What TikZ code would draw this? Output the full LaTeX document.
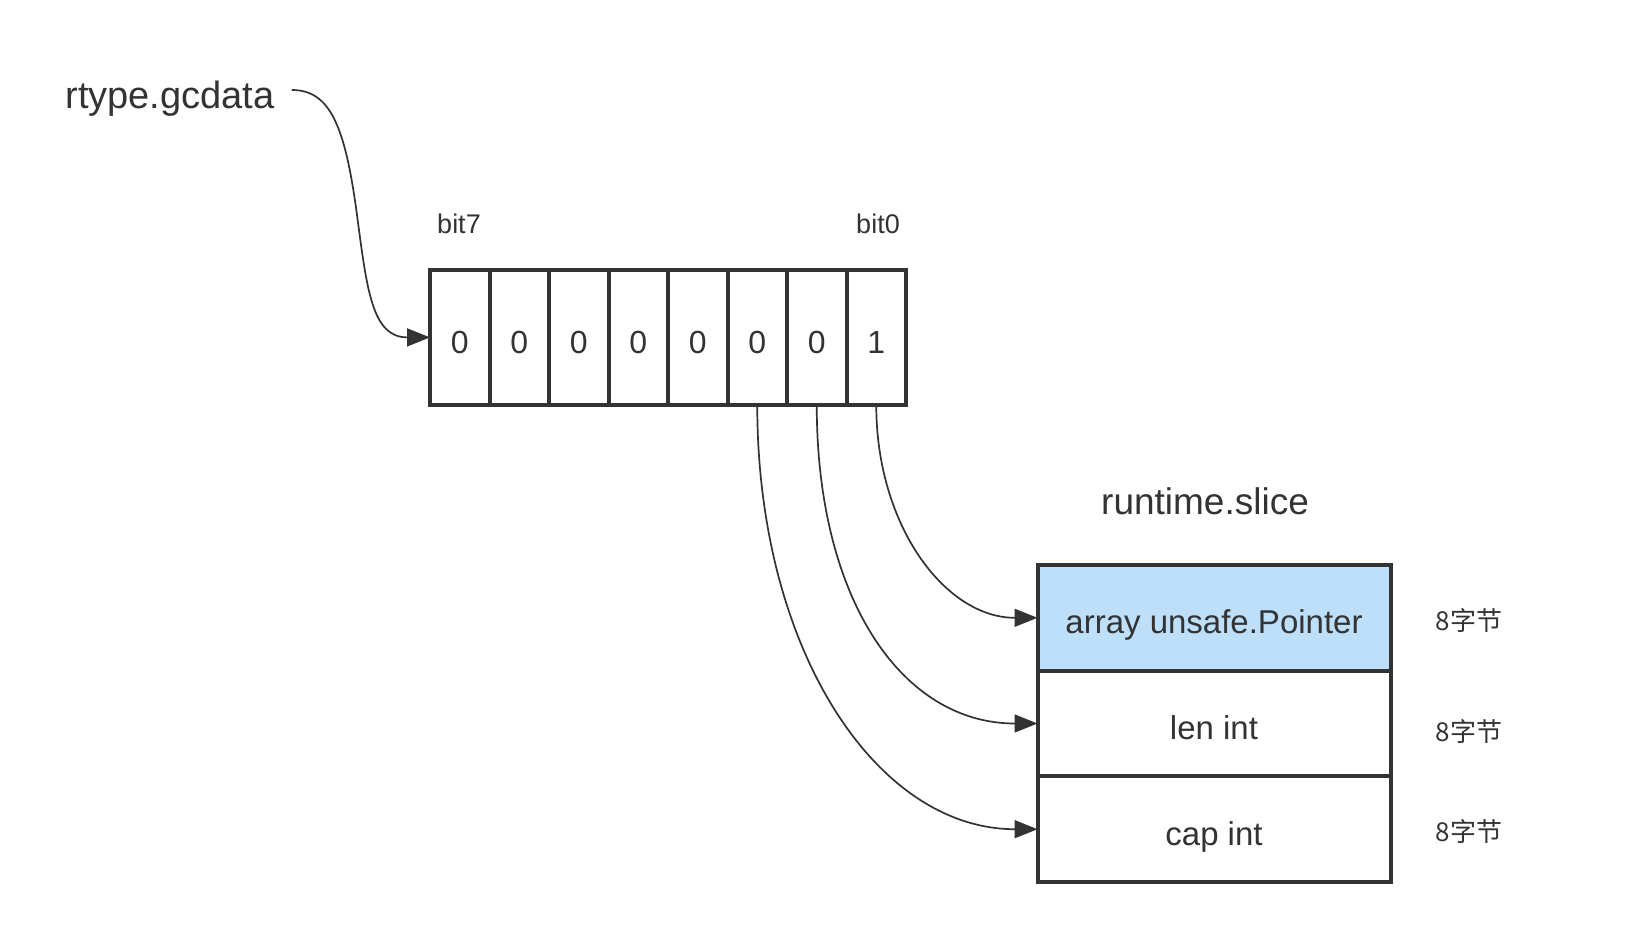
\documentclass[tikz,border=0pt]{standalone}
\usepackage{fontspec}
\setmainfont{Liberation Sans}
\newfontfamily\cjk{Noto Sans CJK SC}
\usetikzlibrary{arrows.meta}
\definecolor{ink}{HTML}{333333}
\definecolor{slblue}{RGB}{189,223,249}
\begin{document}
\begin{tikzpicture}[x=1pt,y=-1pt,
  cell/.style={draw=ink,line width=4pt,minimum width=59.5pt,minimum height=135.3pt,inner sep=0pt,outer sep=0pt,text=ink,font=\fontsize{32}{32}\selectfont,text height=33pt,text depth=0pt},
  field/.style={draw=ink,line width=4pt,minimum width=353pt,minimum height=105.7pt,inner sep=0pt,outer sep=0pt,text=ink,font=\fontsize{33}{33}\selectfont,text height=32pt,text depth=0pt},
  title/.style={text=ink,font=\fontsize{37}{37}\selectfont,anchor=base,inner sep=0pt},
  small/.style={text=ink,font=\fontsize{27}{27}\selectfont,anchor=base,inner sep=0pt},
  bytes/.style={text=ink,font=\cjk\fontsize{26}{26}\selectfont,anchor=base,inner sep=0pt},
  link/.style={draw=ink,line width=1.7pt,-{Triangle[length=23pt,width=18pt]}}
]
\useasboundingbox (0,0) rectangle (1640,934);

% bit byte
\foreach \i/\v in {1/0,2/0,3/0,4/0,5/0,6/0,7/0,8/1}
  \node[cell] (c\i) at ({430+59.5*(\i-0.5)},337.4) {\v};

\node[small] (b7) at (459,233) {bit7};
\node[small] (b0) at (878,233) {bit0};

% label
\node[title,font=\fontsize{38}{38}\selectfont] (gc) at (170,108) {rtype.gcdata};
\path (gc.base east) ++(17,-18) coordinate (gcout);

% slice
\node[title] (rs) at (1205,514) {runtime.slice};
\node[field,fill=slblue] (s1) at (1214,617.8) {array unsafe.Pointer};
\node[field] (s2) at (1214,723.5) {len int};
\node[field] (s3) at (1214,829.2) {cap int};

\node[bytes] (z1) at (1469,630.7) {8字节};
\node[bytes] (z2) at (1469,741.7) {8字节};
\node[bytes] (z3) at (1469,841.7) {8字节};

% connectors
\draw[link] (gcout) .. controls +(38,0) and (345,125) .. (357,215)
  .. controls (367,290) and (372,337.4) .. (c1.west);
\draw[link] (c8.south) .. controls +(0,121) and +(-92,0) .. (s1.west);
\draw[link] (c7.south) .. controls +(0,195) and +(-135,0) .. (s2.west);
\draw[link] (c6.south) .. controls +(0,245) and +(-161,0) .. (s3.west);
\end{tikzpicture}
\end{document}
